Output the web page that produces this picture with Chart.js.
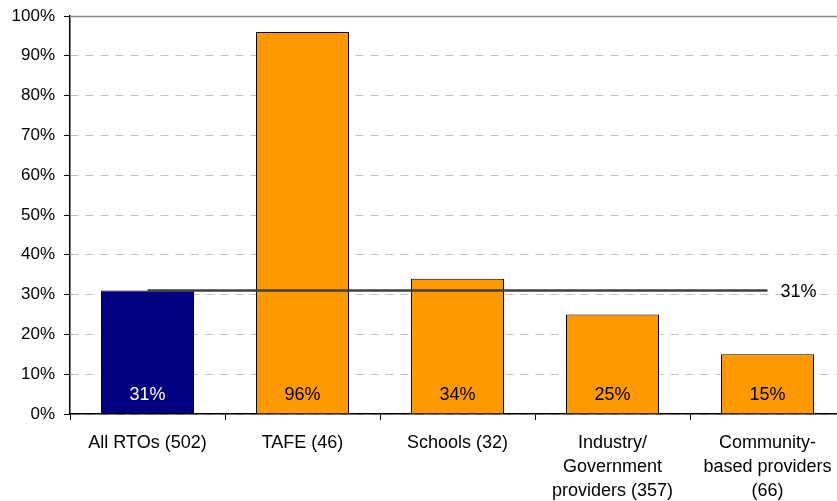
<!DOCTYPE html>
<html>
<head>
<meta charset="utf-8">
<script src="https://cdn.jsdelivr.net/npm/chart.js@4.4.1/dist/chart.umd.min.js"></script>
<style>
  html, body { margin: 0; padding: 0; background: #fff; overflow: hidden; }
  #wrap { position: relative; width: 846px; height: 501px; }
</style>
</head>
<body>
<div id="wrap"><canvas id="chart"></canvas></div>
<script>
// Provider types (sample sizes in brackets)
const categories = [
  'All RTOs (502)',
  'TAFE (46)',
  'Schools (32)',
  ['Industry/', 'Government', 'providers (357)'],
  ['Community-', 'based providers', '(66)']
];
// Share of providers, per cent
const shares = [31, 96, 34, 25, 15];
// Overall figure shown as a reference line across the groups
const overallShare = 31;
const overallLine = categories.map(() => overallShare);
const yTicks = [0, 10, 20, 30, 40, 50, 60, 70, 80, 90, 100];

const barColors = shares.map((v, i) => i === 0 ? '#000080' : '#FF9900');
const labelColors = shares.map((v, i) => i === 0 ? '#ffffff' : '#000000');
const FONT = 'Liberation Sans, Arial, sans-serif';

// Value labels inside the bars, the overall label, and the solid top frame line
const annotate = {
  id: 'annotate',
  afterDatasetsDraw(chart) {
    const { ctx, scales: { x, y }, chartArea } = chart;
    ctx.save();
    // top frame line at 100%
    const yTop = Math.round(y.getPixelForValue(100)) + 0.5;
    ctx.strokeStyle = '#888888';
    ctx.lineWidth = 1.5;
    ctx.setLineDash([]);
    ctx.beginPath();
    ctx.moveTo(chartArea.left, yTop);
    ctx.lineTo(chartArea.right, yTop);
    ctx.stroke();

    ctx.font = '18px ' + FONT;
    ctx.textAlign = 'center';
    ctx.textBaseline = 'middle';
    const bars = chart.getDatasetMeta(0).data;
    bars.forEach((bar, i) => {
      ctx.fillStyle = labelColors[i];
      ctx.fillText(shares[i] + '%', bar.x, y.getPixelForValue(0) - 19);
    });
    const pts = chart.getDatasetMeta(1).data;
    const last = pts[pts.length - 1];
    ctx.fillStyle = '#000';
    ctx.textAlign = 'left';
    ctx.fillText(overallShare + '%', last.x + 13, last.y + 1);
    ctx.restore();
  }
};

new Chart(document.getElementById('chart'), {
  data: {
    labels: categories,
    datasets: [
      {
        type: 'bar',
        data: shares,
        backgroundColor: barColors,
        borderColor: '#000000',
        borderWidth: 1,
        categoryPercentage: 1,
        barPercentage: 0.6,
        order: 2
      },
      {
        type: 'line',
        data: overallLine,
        borderColor: '#404040',
        borderWidth: 2.5,
        pointRadius: 0,
        fill: false,
        order: 1
      }
    ]
  },
  options: {
    responsive: true,
    maintainAspectRatio: false,
    animation: false,
    events: [],
    layout: { autoPadding: false, padding: { top: 16, right: 1, left: 0, bottom: 0 } },
    plugins: { legend: { display: false }, tooltip: { enabled: false } },
    scales: {
      x: {
        offset: true,
        grid: {
          offset: true,
          drawOnChartArea: false,
          drawTicks: true,
          tickLength: 6,
          tickColor: '#000',
          color: '#000'
        },
        border: { display: true, color: '#000', width: 1.5 },
        ticks: {
          color: '#000',
          font: { family: FONT, size: 18, lineHeight: 1.34 },
          padding: 11,
          maxRotation: 0,
          autoSkip: false
        },
        afterFit(scale) { scale.height = 87; }
      },
      y: {
        min: 0,
        max: 100,
        afterBuildTicks(scale) { scale.ticks = yTicks.map(v => ({ value: v })); },
        grid: {
          color: '#c0c0c0',
          lineWidth: 1,
          drawTicks: true,
          tickLength: 6,
          tickColor: '#000',
          tickWidth: 1
        },
        border: { display: true, color: '#000', width: 1.5, dash: [8, 7] },
        ticks: {
          color: '#000',
          font: { family: FONT, size: 17 },
          padding: 9,
          callback: v => v + '%'
        },
        afterFit(scale) {
          scale.width = 70;
          scale.paddingTop = 0;
          scale.paddingBottom = 0;
        }
      }
    }
  },
  plugins: [annotate]
});
</script>
</body>
</html>
